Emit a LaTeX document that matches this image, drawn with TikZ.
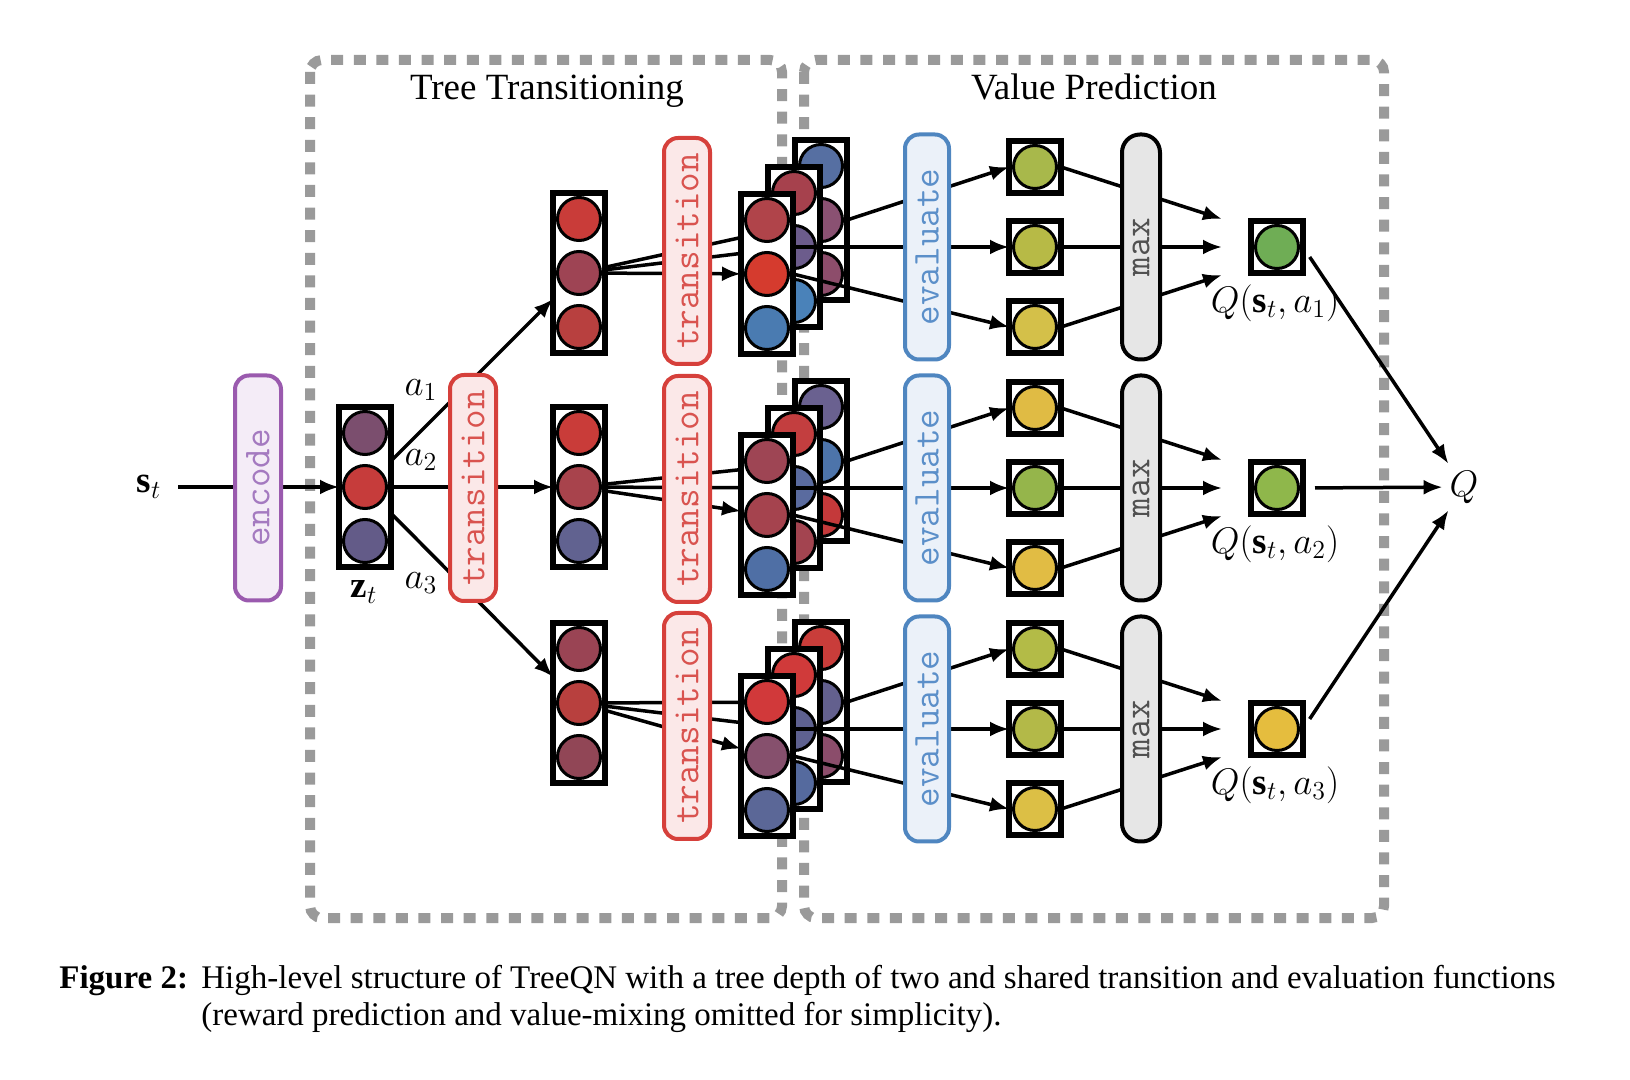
\documentclass[tikz,border=0pt]{standalone}
\usepackage{fix-cm}
\usepackage{fontspec}
\setmainfont{Liberation Serif}
\usetikzlibrary{arrows.meta,calc}
\pgfdeclarelayer{bg}
\pgfdeclarelayer{lines}
\pgfsetlayers{bg,lines,main}

\definecolor{dashgray}{HTML}{9A9A9A}
\definecolor{trB}{HTML}{D6403B}
\definecolor{trF}{HTML}{FBE8E8}
\definecolor{trT}{HTML}{D9534F}
\definecolor{evB}{HTML}{4F86C0}
\definecolor{evF}{HTML}{EBF1F9}
\definecolor{evT}{HTML}{5B8FC9}
\definecolor{enB}{HTML}{9A5AAE}
\definecolor{enF}{HTML}{F4ECF7}
\definecolor{enT}{HTML}{A47AC0}
\definecolor{mxF}{HTML}{E6E6E6}
\definecolor{mxT}{HTML}{505050}
% vector colours
\definecolor{zA}{HTML}{7B4E6E}\definecolor{zB}{HTML}{C63C3B}\definecolor{zC}{HTML}{635B88}
\definecolor{aA}{HTML}{C93C39}\definecolor{aB}{HTML}{9E4454}\definecolor{aC}{HTML}{B8403F}
\definecolor{bA}{HTML}{C93C39}\definecolor{bB}{HTML}{A8434C}\definecolor{bC}{HTML}{616290}
\definecolor{cA}{HTML}{9A4454}\definecolor{cB}{HTML}{B8403E}\definecolor{cC}{HTML}{914656}
% top stack
\definecolor{pfA}{HTML}{B0444A}\definecolor{pfB}{HTML}{D53B2E}\definecolor{pfC}{HTML}{4A7BB1}
\definecolor{pmA}{HTML}{A6414D}\definecolor{pmB}{HTML}{6C5C8C}\definecolor{pmC}{HTML}{4A82B9}
\definecolor{pbA}{HTML}{566FA2}\definecolor{pbB}{HTML}{8A5172}\definecolor{pbC}{HTML}{8D4D6B}
% middle stack
\definecolor{qfA}{HTML}{9E4554}\definecolor{qfB}{HTML}{A5434E}\definecolor{qfC}{HTML}{4F6FA5}
\definecolor{qmA}{HTML}{C33E3F}\definecolor{qmB}{HTML}{5A6B9F}\definecolor{qmC}{HTML}{A34450}
\definecolor{qbA}{HTML}{6A6190}\definecolor{qbB}{HTML}{4D74AA}\definecolor{qbC}{HTML}{C4393A}
% bottom stack
\definecolor{rfA}{HTML}{D1393A}\definecolor{rfB}{HTML}{86506D}\definecolor{rfC}{HTML}{5B6797}
\definecolor{rmA}{HTML}{D03A3A}\definecolor{rmB}{HTML}{5E6190}\definecolor{rmC}{HTML}{556A9E}
\definecolor{rbA}{HTML}{C93D3A}\definecolor{rbB}{HTML}{63608E}\definecolor{rbC}{HTML}{8B4D6B}
% leaves
\definecolor{lpA}{HTML}{A8B84B}\definecolor{lpB}{HTML}{B7BA46}\definecolor{lpC}{HTML}{D4C049}
\definecolor{lqA}{HTML}{E0BB44}\definecolor{lqB}{HTML}{95B54B}\definecolor{lqC}{HTML}{E1BC44}
\definecolor{lrA}{HTML}{B3BB47}\definecolor{lrB}{HTML}{B3B948}\definecolor{lrC}{HTML}{DCBF45}
\definecolor{qvA}{HTML}{6FAD55}\definecolor{qvB}{HTML}{8FB74B}\definecolor{qvC}{HTML}{E5BD3E}

\tikzset{
  vecbox/.style={draw=black, fill=white, line width=3pt, minimum width=26pt, minimum height=80pt, inner sep=0pt, outer sep=0pt},
  leafbox/.style={draw=black, fill=white, line width=3pt, minimum size=26pt, inner sep=0pt, outer sep=0pt},
  dot/.style={circle, draw=black, line width=1.5pt, minimum size=21.5pt, inner sep=0pt},
  conn/.style={line width=1.75pt, -{Latex[length=9.5pt,width=7.5pt]}},
  dashbox/.style={draw=dashgray, line width=5pt, dash pattern=on 6pt off 5.3pt, rounded corners=6pt},
  monotext/.style={font=\fontsize{19}{21}\selectfont\ttfamily},
  trbox/.style={monotext, rotate=90, draw=trB, fill=trF, text=trT, line width=2pt, rounded corners=7pt, minimum width=113pt, minimum height=23pt, inner sep=0pt},
  evbox/.style={monotext, rotate=90, draw=evB, fill=evF, text=evT, line width=2pt, rounded corners=7pt, minimum width=112.5pt, minimum height=22pt, inner sep=0pt},
  enbox/.style={monotext, rotate=90, draw=enB, fill=enF, text=enT, line width=2pt, rounded corners=7pt, minimum width=112.5pt, minimum height=23pt, inner sep=0pt},
  mxbox/.style={monotext, rotate=90, draw=black, fill=mxF, text=mxT, line width=2pt, rounded corners=9pt, minimum width=112.5pt, minimum height=19pt, inner sep=0pt},
  title/.style={anchor=base, inner sep=0pt, font=\fontsize{18.5}{22}\selectfont},
  mlabel/.style={font=\fontsize{18.5}{22}\selectfont},
  captxt/.style={anchor=base west, inner sep=0pt, font=\fontsize{16.5}{19}\selectfont},
}

\newcommand{\vecnode}[6]{%
  \node[vecbox] (#1) at (#2,#3) {};
  \node[dot, fill=#4] (#1-1) at ([yshift=27pt]#1.center) {};
  \node[dot, fill=#5] (#1-2) at (#1.center) {};
  \node[dot, fill=#6] (#1-3) at ([yshift=-27pt]#1.center) {};
}
\newcommand{\leafnode}[4]{%
  \node[leafbox] (#1) at (#2,#3) {};
  \node[dot, fill=#4] (#1-c) at (#1.center) {};
}

\begin{document}
\begin{tikzpicture}[x=0.5pt,y=-0.5pt]
\useasboundingbox (0,0) rectangle (1630,1080);

% dashed regions
\begin{pgfonlayer}{bg}
  \draw[dashbox] (310,60) rectangle (782,918);
  \draw[dashbox] (804,60) rectangle (1384,918);
\end{pgfonlayer}

\node[title] (ttl1) at (547,100) {Tree Transitioning};
\node[title] (ttl2) at (1094,100) {Value Prediction};

% input and encoder
\node[mlabel] (st) at (149,487) {$\mathbf{s}_t$};
\node[enbox] (enc) at (258,488) {encode};

% root state
\vecnode{zt}{365}{487}{zA}{zB}{zC}
\node[mlabel] (ztl) at (364,592) {$\mathbf{z}_t$};

% depth-1 states
\vecnode{n1}{579}{273}{aA}{aB}{aC}
\vecnode{n2}{579}{487}{bA}{bB}{bC}
\vecnode{n3}{579}{703}{cA}{cB}{cC}

\node[mlabel] (la1) at (421,390) {$a_1$};
\node[mlabel] (la2) at (421,460) {$a_2$};
\node[mlabel] (la3) at (421,583) {$a_3$};

% leaves
\leafnode{L1a}{1035}{167}{lpA}
\leafnode{L1b}{1035}{247}{lpB}
\leafnode{L1c}{1035}{327}{lpC}
\leafnode{L2a}{1035}{408}{lqA}
\leafnode{L2b}{1035}{488}{lqB}
\leafnode{L2c}{1035}{568}{lqC}
\leafnode{L3a}{1035}{649}{lrA}
\leafnode{L3b}{1035}{729}{lrB}
\leafnode{L3c}{1035}{809}{lrC}

% depth-2 stacks (back, middle, front)
\vecnode{T1b}{821}{220}{pbA}{pbB}{pbC}
\draw[conn] (T1b.east) -- (L1a.west);
\vecnode{T1m}{794}{247}{pmA}{pmB}{pmC}
\draw[conn] (T1m.center) -- (L1b.west);
\vecnode{T1f}{767}{274}{pfA}{pfB}{pfC}
\draw[conn] (T1f.east) -- (L1c.west);

\vecnode{T2b}{821}{461}{qbA}{qbB}{qbC}
\draw[conn] (T2b.east) -- (L2a.west);
\vecnode{T2m}{794}{488}{qmA}{qmB}{qmC}
\draw[conn] (T2m.center) -- (L2b.west);
\vecnode{T2f}{767}{515}{qfA}{qfB}{qfC}
\draw[conn] (T2f.east) -- (L2c.west);

\vecnode{T3b}{821}{702}{rbA}{rbB}{rbC}
\draw[conn] (T3b.east) -- (L3a.west);
\vecnode{T3m}{794}{729}{rmA}{rmB}{rmC}
\draw[conn] (T3m.center) -- (L3b.west);
\vecnode{T3f}{767}{756}{rfA}{rfB}{rfC}
\draw[conn] (T3f.east) -- (L3c.west);

% transition / evaluate / max blocks
\node[trbox] (tr0) at (473,488) {transition};
\node[trbox] (tr1) at (687,251) {transition};
\node[trbox] (tr2) at (687,489) {transition};
\node[trbox] (tr3) at (687,726) {transition};

\node[evbox] (ev1) at (927,247) {evaluate};
\node[evbox] (ev2) at (927,488) {evaluate};
\node[evbox] (ev3) at (927,729) {evaluate};

\node[mxbox] (mx1) at (1141,247) {max};
\node[mxbox] (mx2) at (1141,488) {max};
\node[mxbox] (mx3) at (1141,729) {max};

% Q values
\leafnode{Q1}{1277}{247}{qvA}
\leafnode{Q2}{1277}{488}{qvB}
\leafnode{Q3}{1277}{729}{qvC}
\node[mlabel] (Q1l) at (1275,303) {$Q(\mathbf{s}_t,a_1)$};
\node[mlabel] (Q2l) at (1275,544) {$Q(\mathbf{s}_t,a_2)$};
\node[mlabel] (Q3l) at (1275,785) {$Q(\mathbf{s}_t,a_3)$};
\node[mlabel] (Qn) at (1464,487) {$Q$};

\coordinate (e1a) at (1222,219);
\coordinate (e1b) at (1222,247);
\coordinate (e1c) at (1222,275);
\coordinate (e2a) at (1222,460);
\coordinate (e2b) at (1222,488);
\coordinate (e2c) at (1222,516);
\coordinate (e3a) at (1222,701);
\coordinate (e3b) at (1222,729);
\coordinate (e3c) at (1222,757);

\draw[conn, shorten <=6pt] (Q1.east) -- (Qn);
\draw[conn, shorten <=6pt] (Q2.east) -- (Qn);
\draw[conn, shorten <=6pt] (Q3.east) -- (Qn);

% connectors hidden behind blocks
\begin{pgfonlayer}{lines}
  \draw[conn, shorten <=5pt] (st) -- (zt);
  \draw[conn] (zt) -- (n1);
  \draw[conn] (zt) -- (n2);
  \draw[conn] (zt) -- (n3);
  \draw[conn] (n1) -- (T1b);
  \draw[conn] (n1) -- (T1m);
  \draw[conn] (n1) -- (T1f);
  \draw[conn] (n2) -- (T2b);
  \draw[conn] (n2) -- (T2m);
  \draw[conn] (n2) -- (T2f);
  \draw[conn] (n3) -- (T3b);
  \draw[conn] (n3) -- (T3m);
  \draw[conn] (n3) -- (T3f);
  \draw[conn] (L1a.east) -- (e1a);
  \draw[conn] (L1b.east) -- (e1b);
  \draw[conn] (L1c.east) -- (e1c);
  \draw[conn] (L2a.east) -- (e2a);
  \draw[conn] (L2b.east) -- (e2b);
  \draw[conn] (L2c.east) -- (e2c);
  \draw[conn] (L3a.east) -- (e3a);
  \draw[conn] (L3b.east) -- (e3b);
  \draw[conn] (L3c.east) -- (e3c);
\end{pgfonlayer}

% caption
\node[captxt, font=\fontsize{16.5}{19}\selectfont\bfseries] (capL) at (59,988) {Figure 2:};
\node[captxt] (cap1) at (201,988) {High-level structure of TreeQN with a tree depth of two and shared transition and evaluation functions};
\node[captxt] (cap2) at (201,1025) {(reward prediction and value-mixing omitted for simplicity).};
\end{tikzpicture}
\end{document}
